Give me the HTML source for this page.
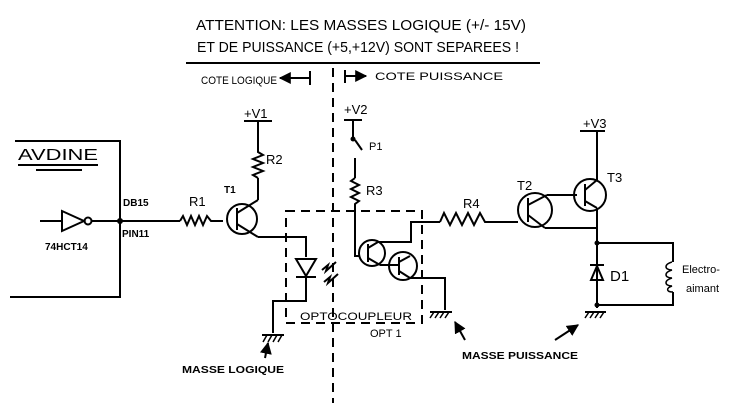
<!DOCTYPE html>
<html><head><meta charset="utf-8"><style>
html,body{margin:0;padding:0;background:#fff;width:743px;height:403px;overflow:hidden}
svg{display:block}
text{font-family:"Liberation Sans",sans-serif;fill:#000}
</style></head><body>
<svg width="743" height="403" viewBox="0 0 743 403" xmlns="http://www.w3.org/2000/svg">
<defs><marker id="ah" viewBox="0 0 10 10" refX="9" refY="5" markerWidth="6" markerHeight="6" orient="auto"><path d="M0,0 L10,5 L0,10 z" fill="#000"/></marker></defs>
<g font-size="15">
<text x="196" y="30" textLength="330" lengthAdjust="spacingAndGlyphs">ATTENTION: LES MASSES LOGIQUE (+/- 15V)</text>
<text x="197" y="52" textLength="322" lengthAdjust="spacingAndGlyphs">ET DE PUISSANCE (+5,+12V) SONT SEPAREES !</text>
</g>
<line x1="186" y1="63" x2="540" y2="63" stroke="#000" stroke-width="2"/>
<g font-size="11">
<text x="201" y="84" textLength="76" lengthAdjust="spacingAndGlyphs">COTE LOGIQUE</text>
<text x="375" y="80" textLength="128" lengthAdjust="spacingAndGlyphs">COTE  PUISSANCE</text>
</g>
<g stroke="#000" stroke-width="2" fill="none">
<line x1="310" y1="78" x2="280" y2="78" marker-end="url(#ah)"/><line x1="310" y1="71" x2="310" y2="85"/>
<line x1="345" y1="76" x2="366" y2="76" marker-end="url(#ah)"/><line x1="345" y1="70" x2="345" y2="83"/>
<line x1="333" y1="68" x2="333" y2="403" stroke-dasharray="9,6"/>
<polyline points="15,141 120,141 120,297 10,297"/>
<line x1="18" y1="165" x2="98" y2="165"/><line x1="36" y1="170" x2="82" y2="170"/>
<line x1="40" y1="221" x2="62" y2="221"/>
<polygon points="62,211 62,231 84,221"/>
<circle cx="88" cy="221" r="3.5"/>
<line x1="92" y1="221" x2="180" y2="221"/>
<path d="M180,221 l3,-5 l4,9 l4,-9 l4,9 l4,-9 l4,9 l4,-9 l4,5 h12"/>
<circle cx="242" cy="219" r="15"/>
<line x1="237" y1="208" x2="237" y2="230"/>
<line x1="237" y1="213" x2="258" y2="200"/><line x1="237" y1="224" x2="258" y2="237"/>
<polyline points="258,200 258,178"/>
<path d="M258,178 l-5,-3 l10,-4 l-10,-4 l10,-4 l-10,-4 l10,-4 l-5,-3 v-32"/>
<line x1="244" y1="121" x2="272" y2="121"/>
<polyline points="258,237 306,237 306,257"/>
<polygon points="296,259 316,259 306,276"/><line x1="296" y1="277" x2="316" y2="277"/>
<polyline points="306,277 306,301 273,301 273,333"/>
<line x1="262" y1="335" x2="284" y2="335"/>
<path d="M263,342 l4,-7 M268,342 l4,-7 M273,342 l4,-7 M278,342 l4,-7" stroke-width="1.5"/>
<line x1="265" y1="358" x2="268" y2="343" marker-end="url(#ah)"/>
<path d="M322,270 l6,-5 l-2,6 l10,-9 M324,282 l6,-5 l-2,6 l10,-9" stroke-width="2"/>
<rect x="286" y="211" width="136" height="112" stroke-dasharray="9,6"/>
<line x1="344" y1="120" x2="362" y2="120"/>
<line x1="353" y1="120" x2="353" y2="137"/>
<line x1="355" y1="140" x2="362" y2="150"/>
<line x1="355" y1="158" x2="355" y2="178"/>
<path d="M355,178 l-4,3 l8,4 l-8,4 l8,4 l-8,4 l8,4 l-4,3 v52 h5"/>
<circle cx="372" cy="253" r="13"/><line x1="368" y1="244" x2="368" y2="262"/>
<line x1="368" y1="248" x2="378" y2="242"/><line x1="368" y1="258" x2="380" y2="265"/>
<circle cx="403" cy="266" r="14"/><line x1="399" y1="257" x2="399" y2="275"/>
<line x1="399" y1="262" x2="410" y2="256"/><line x1="399" y1="271" x2="410" y2="278"/>
<polyline points="378,242 411,242 411,222 440,222"/>
<line x1="380" y1="265" x2="399" y2="265"/>
<polyline points="410,278 445,278 445,310"/>
<line x1="430" y1="312" x2="452" y2="312"/>
<path d="M430,318 l4,-6 M435,318 l4,-6 M440,318 l4,-6 M445,318 l4,-6" stroke-width="1.5"/>
<line x1="465" y1="340" x2="455" y2="322" marker-end="url(#ah)"/>
<path d="M440,222 l4,-9 l6,12 l6,-12 l6,12 l6,-12 l6,12 l6,-12 l5,9 h33"/>
<circle cx="535" cy="210" r="17"/><line x1="528" y1="198" x2="528" y2="222"/>
<line x1="528" y1="205" x2="547" y2="195"/><line x1="528" y1="215" x2="545" y2="228"/>
<line x1="547" y1="195" x2="577" y2="195"/>
<circle cx="590" cy="195" r="16"/><line x1="585" y1="184" x2="585" y2="206"/>
<line x1="585" y1="190" x2="597" y2="180"/><line x1="585" y1="201" x2="597" y2="208"/>
<line x1="580" y1="131" x2="605" y2="131"/>
<line x1="597" y1="131" x2="597" y2="180"/>
<polyline points="545,228 597,228"/>
<line x1="597" y1="208" x2="597" y2="308"/>
<polyline points="597,243 673,243 673,262"/>
<polyline points="673,292 673,305 597,305"/>
<path d="M672,262 c-8,2 -8,8 0,8 c-8,2 -8,8 0,8 c-8,2 -8,8 0,8 c-6,2 -6,6 1,6" stroke-width="1.5"/>
<polygon points="591,280 603,280 597,266"/><line x1="590" y1="265" x2="604" y2="265"/>
<line x1="585" y1="312" x2="606" y2="312"/>
<path d="M585,318 l4,-6 M590,318 l4,-6 M595,318 l4,-6 M600,318 l4,-6" stroke-width="1.5"/>
<line x1="555" y1="340" x2="578" y2="325" marker-end="url(#ah)"/>
</g>
<g fill="#000">
<circle cx="120" cy="221" r="3"/><circle cx="353" cy="139" r="2.5"/>
<circle cx="597" cy="243" r="2.5"/><circle cx="597" cy="305" r="2.5"/>
</g>
<g font-size="16"><text x="18" y="160" textLength="80" lengthAdjust="spacingAndGlyphs">AVDINE</text></g>
<g font-size="10" font-weight="bold">
<text x="123" y="206">DB15</text><text x="122" y="237">PIN11</text>
<text x="45" y="250">74HCT14</text>
<text x="224" y="193">T1</text>
<text x="182" y="373" textLength="102" lengthAdjust="spacingAndGlyphs">MASSE LOGIQUE</text>
<text x="462" y="359" textLength="116" lengthAdjust="spacingAndGlyphs">MASSE PUISSANCE</text>
</g>
<g font-size="13">
<text x="244" y="118">+V1</text><text x="344" y="114">+V2</text><text x="583" y="128">+V3</text>
<text x="189" y="206">R1</text><text x="266" y="164">R2</text><text x="366" y="195">R3</text>
<text x="463" y="208">R4</text><text x="517" y="190">T2</text><text x="607" y="182">T3</text>
<text x="369" y="150" font-size="11">P1</text><text x="610" y="281" font-size="15">D1</text>
</g>
<g font-size="11">
<text x="300" y="320" textLength="112" lengthAdjust="spacingAndGlyphs">OPTOCOUPLEUR</text>
<text x="370" y="337">OPT 1</text>
<text x="682" y="273">Electro-</text><text x="686" y="292">aimant</text>
</g>
</svg>
</body></html>
